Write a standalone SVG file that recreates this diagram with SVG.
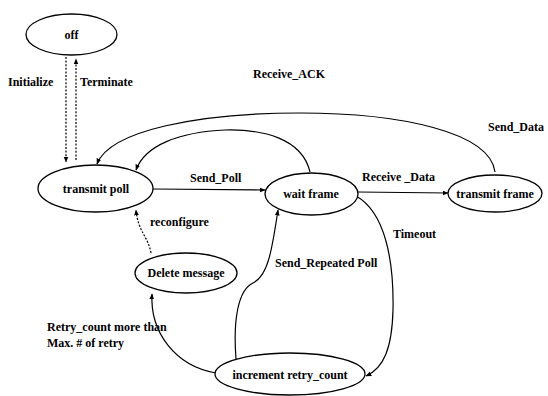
<svg xmlns="http://www.w3.org/2000/svg" width="548" height="396" viewBox="0 0 548 396">
<defs>
<marker id="ah" viewBox="0 0 10 10" refX="9" refY="5" markerWidth="6" markerHeight="6" orient="auto" markerUnits="userSpaceOnUse">
<path d="M0,1 L10,5 L0,9 z" fill="#000"/>
</marker>
</defs>
<style>
.n{fill:#fff;stroke:#000;stroke-width:1.3}
.t{font-family:"Liberation Serif","Times New Roman",serif;font-weight:bold;font-size:12px;fill:#000}
.c{fill:none;stroke:#000;stroke-width:1.2;marker-end:url(#ah)}
.d{stroke-dasharray:2,1.6}
</style>
<rect width="548" height="396" fill="#fff"/>
<g id="connectors">
<path class="c d" d="M66,57 L66,162"/>
<path class="c d" d="M76,160 L76,59"/>
<path class="c" d="M495,172 C490,132 400,113 300,113 C200,113 110,130 97,164"/>
<path class="c" d="M310,172 C302,138 262,129 225,130 C180,132 145,145 136,170"/>
<path class="c" d="M153,189 L265,190"/>
<path class="c" d="M358,192 L448,193"/>
<path class="c" d="M356,196 C385,212 394,260 393,310 C392,348 384,368 366,376"/>
<path class="c" d="M236,359 C233,320 238,290 253,283 C268,276 272,250 278,210"/>
<path class="c" d="M216,373 C175,366 150,332 152,294"/>
<path class="c d" d="M151,253 C148,236 138,232 136,210"/>
</g>
<g id="off"><ellipse class="n" cx="71.5" cy="34.5" rx="45.5" ry="20.5"/><text class="t" x="71.5" y="39" text-anchor="middle">off</text></g>
<g id="transmit-poll"><ellipse class="n" cx="95.5" cy="188.5" rx="57.5" ry="23.5"/><text class="t" x="96" y="193" text-anchor="middle">transmit poll</text></g>
<g id="wait-frame"><ellipse class="n" cx="311.5" cy="194" rx="46.5" ry="21"/><text class="t" x="311" y="198" text-anchor="middle">wait frame</text></g>
<g id="transmit-frame"><ellipse class="n" cx="495" cy="193.5" rx="47" ry="18.5"/><text class="t" x="495" y="198" text-anchor="middle">transmit frame</text></g>
<g id="delete-message"><ellipse class="n" cx="186" cy="273" rx="51" ry="20"/><text class="t" x="186" y="277" text-anchor="middle">Delete message</text></g>
<g id="increment-retry-count"><ellipse class="n" cx="290" cy="374" rx="75" ry="21"/><text class="t" x="290" y="379" text-anchor="middle">increment retry_count</text></g>
<g id="labels">
<text class="t" x="8" y="86">Initialize</text>
<text class="t" x="80" y="86">Terminate</text>
<text class="t" x="253" y="78">Receive_ACK</text>
<text class="t" x="488" y="131">Send_Data</text>
<text class="t" x="190" y="182">Send_Poll</text>
<text class="t" x="362" y="181">Receive _Data</text>
<text class="t" x="393" y="238">Timeout</text>
<text class="t" x="150" y="226">reconfigure</text>
<text class="t" x="275" y="267">Send_Repeated Poll</text>
<text class="t" x="47" y="331">Retry_count more than</text>
<text class="t" x="47" y="347">Max. # of retry</text>
</g>
</svg>
